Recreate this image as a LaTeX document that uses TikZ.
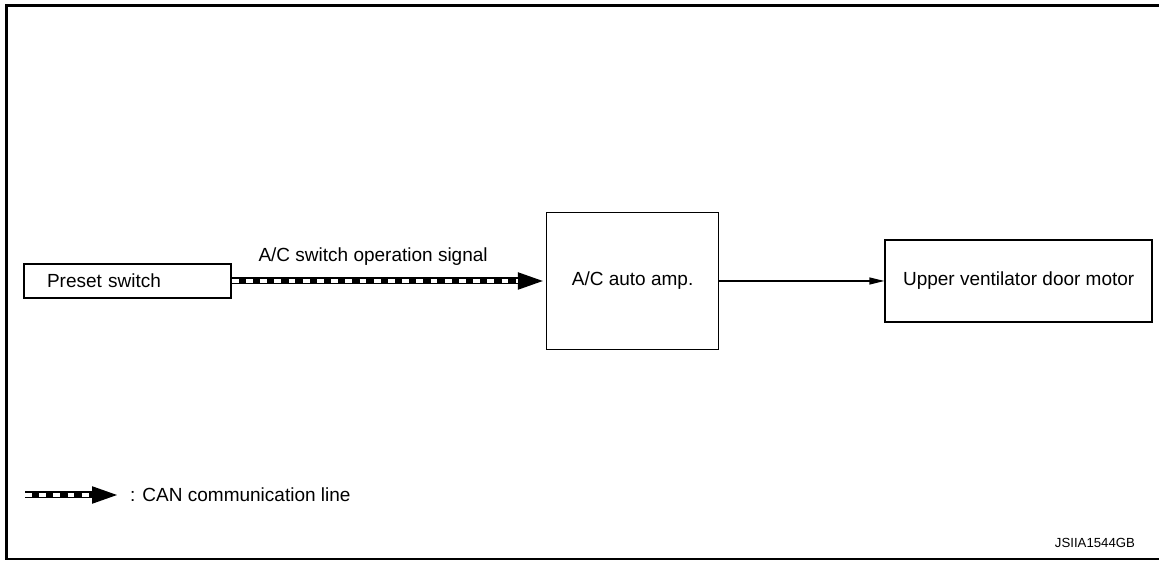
\documentclass[tikz,border=0pt]{standalone}
\usepackage{fontspec}
\setmainfont{Liberation Sans}
\usetikzlibrary{arrows.meta, positioning}

\begin{document}
\begin{tikzpicture}[font=\fontsize{9.5}{11}\selectfont,
  block/.style={draw, line width=0.8pt, inner sep=0pt, align=center},
  canline/.style={line width=3.5pt, -{Triangle[length=14pt, width=7.5pt]},
    postaction={draw, -, white, line width=1.8pt, dash pattern=on 3.35pt off 3.75pt, shorten >=14pt}},
  sigline/.style={line width=0.6pt, -{Triangle[length=7.5pt, width=3.5pt]}}]
\useasboundingbox (0,0) rectangle (579.5pt,280.5pt);
\draw[line width=1.5pt] (579.5pt,277.5pt) -- (3pt,277.5pt) -- (3pt,0.6pt);
\draw[line width=0.8pt] (3pt,1pt) -- (579.5pt,1pt);

\node[block, minimum width=103.5pt, minimum height=17pt, text width=80.5pt, inner xsep=11.5pt, align=left] (preset) at (63.75pt,140pt) {Preset switch};
\node[block, right=157pt of preset, minimum width=86pt, minimum height=68.5pt] (amp) {A/C auto amp.};
\node[block, right=82.5pt of amp, minimum width=133.5pt, minimum height=41pt] (motor) {Upper ventilator door motor};

\draw[canline] (preset) -- node[above=2.7pt, pos=0.45] (sig) {A/C switch operation signal} (amp);
\draw[sigline] (amp) -- (motor);

\coordinate (legA) at (12.5pt,33pt);
\coordinate (legB) at (60pt,33pt);
\draw[canline] (legA) -- (legB) node[right] (legtext) {: CAN communication line};

\node[anchor=east, font=\fontsize{6.6}{8}\selectfont] (code) at (571pt,9pt) {JSIIA1544GB};
\end{tikzpicture}
\end{document}
